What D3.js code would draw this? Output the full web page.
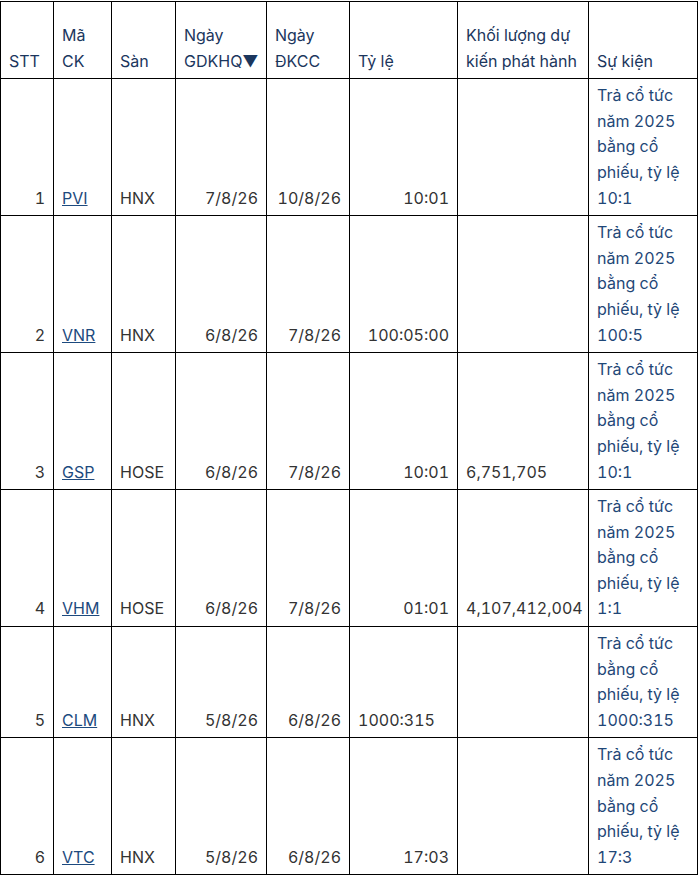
<!DOCTYPE html>
<html>
<head>
<meta charset="utf-8">
<script src="https://cdn.jsdelivr.net/npm/d3@7"></script>
<style>
  html, body { margin: 0; padding: 0; background: #fff; }
  body { padding-top: 1px; }
  table {
    border-collapse: collapse;
    table-layout: fixed;
    font-family: Inter, "Noto Sans", sans-serif;
    font-size: 16px;
    line-height: 25.6px;
    font-variant-numeric: tabular-nums;
  }
  th, td {
    border: 1px solid #000;
    padding: 4px 8px;
    vertical-align: bottom;
    overflow: hidden;
  }
  th {
    font-weight: normal;
    text-align: left;
    color: #1b365d;
    padding-top: 21px;
  }
  td { color: #333; }
  td.r { text-align: right; }
  td.l { text-align: left; }
  td a { color: #1d4a7e; text-decoration: underline; }
  td.ev { color: #1f4777; }
</style>
</head>
<body>
<div id="chart"></div>
<script>
// ---- data ----
const headers = ["STT", "Mã CK", "Sàn", "Ngày GDKHQ▼", "Ngày ĐKCC", "Tỷ lệ", "Khối lượng dự kiến phát hành", "Sự kiện"];
const stt = [1, 2, 3, 4, 5, 6];
const symbols = ["PVI", "VNR", "GSP", "VHM", "CLM", "VTC"];
const exchanges = ["HNX", "HNX", "HOSE", "HOSE", "HNX", "HNX"];
const exDates = ["7/8/26", "6/8/26", "6/8/26", "6/8/26", "5/8/26", "5/8/26"];
const recordDates = ["10/8/26", "7/8/26", "7/8/26", "7/8/26", "6/8/26", "6/8/26"];
const ratios = ["10:01", "100:05:00", "10:01", "01:01", "1000:315", "17:03"];
const volumes = ["", "", "6,751,705", "4,107,412,004", "", ""];
const events = [
  "Trả cổ tức năm 2025 bằng cổ phiếu, tỷ lệ 10:1",
  "Trả cổ tức năm 2025 bằng cổ phiếu, tỷ lệ 100:5",
  "Trả cổ tức năm 2025 bằng cổ phiếu, tỷ lệ 10:1",
  "Trả cổ tức năm 2025 bằng cổ phiếu, tỷ lệ 1:1",
  "Trả cổ tức bằng cổ phiếu, tỷ lệ 1000:315",
  "Trả cổ tức năm 2025 bằng cổ phiếu, tỷ lệ 17:3"
];

// ---- layout ----
const colWidths = [53, 58, 64, 91, 83, 108, 131, 109];

const rows = stt.map((s, i) => ({
  stt: s, sym: symbols[i], exch: exchanges[i], ex: exDates[i],
  rec: recordDates[i], ratio: ratios[i], vol: volumes[i], ev: events[i]
}));

const isTime = v => /^\d+(:\d\d)+$/.test(v);

const table = d3.select("#chart").append("table")
  .style("width", d3.sum(colWidths) + 1 + "px");

table.append("colgroup").selectAll("col").data(colWidths).join("col")
  .style("width", d => d + "px");

table.append("thead").append("tr").selectAll("th").data(headers).join("th")
  .text(d => d);

const tr = table.append("tbody").selectAll("tr").data(rows).join("tr");

tr.each(function (d) {
  const row = d3.select(this);
  row.append("td").attr("class", "r").text(d.stt);
  row.append("td").attr("class", "l").append("a").attr("href", "#").text(d.sym);
  row.append("td").attr("class", "l").text(d.exch);
  row.append("td").attr("class", "r").text(d.ex);
  row.append("td").attr("class", "r").text(d.rec);
  row.append("td").attr("class", isTime(d.ratio) ? "r" : "l").text(d.ratio);
  row.append("td").attr("class", "l").text(d.vol);
  row.append("td").attr("class", "l ev").text(d.ev);
});
</script>
</body>
</html>
